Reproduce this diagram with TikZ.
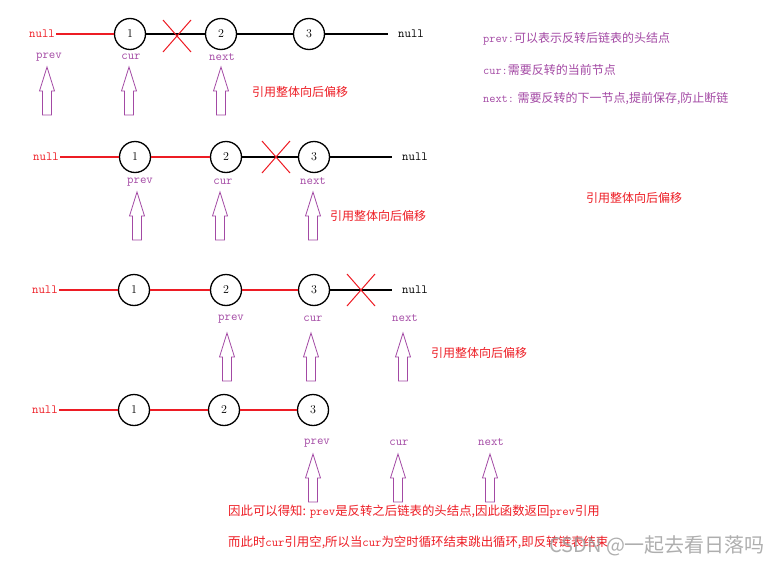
\documentclass[tikz,border=0pt]{standalone}
\usepackage{fontspec}
\usepackage{xcolor}
\usepackage{tikz}
\usetikzlibrary{positioning,calc}
\newfontfamily\cjk{Noto Sans CJK SC}
\definecolor{linkred}{HTML}{ED1C24}
\definecolor{ptrpurple}{HTML}{A349A4}
\definecolor{markgray}{HTML}{9A9A9A}

\begin{document}
\begin{tikzpicture}[
    x=1pt,y=-1pt,
    listnode/.style={circle,draw,line width=1.3pt,minimum size=31pt,inner sep=0pt,font=\fontsize{12}{12}\selectfont},
    nul/.style={inner sep=1pt,font=\ttfamily\fontsize{12.5}{13}\selectfont},
    ptrlbl/.style={inner sep=1pt,text=ptrpurple,font=\ttfamily\fontsize{12.5}{13}\selectfont},
    shiftnote/.style={inner sep=0pt,text=linkred,font=\cjk\fontsize{12}{12}\selectfont},
    legend/.style={inner sep=0pt,anchor=west,text=ptrpurple,font=\cjk\fontsize{12}{12}\selectfont},
    note/.style={inner sep=0pt,anchor=west,text=linkred,font=\cjk\fontsize{12.4}{13}\selectfont},
    oldlink/.style={line width=1.2pt},
    newlink/.style={draw=linkred,line width=1.4pt},
    ptrline/.style={draw=ptrpurple,fill=white,line width=0.8pt,line join=miter},
    cut/.pic={\draw[linkred,line width=1pt] (-14,-16) -- (14,16) (-14,16) -- (14,-16);},
    upptr/.pic={\draw[ptrline] (-4.5,0) -- (-4.5,-24) -- (-7.5,-24) -- (0,-48)
      -- (7.5,-24) -- (4.5,-24) -- (4.5,0) -- cycle;},
  ]
    \useasboundingbox (0,0) rectangle (772,565);

    % step 1
    \node[nul,text=linkred] (nullA) at (42,34) {null};
    \node[listnode] (oneA) at (130,34) {1};
    \node[listnode] (twoA) at (221,34) {2};
    \node[listnode] (threeA) at (309,34) {3};
    \node[nul] (endA) at (411,34) {null};
    \draw[newlink] (nullA) -- (oneA);
    \draw[oldlink] (oneA) -- (twoA);
    \draw[oldlink] (twoA) -- (threeA);
    \draw[oldlink] (threeA) -- ([xshift=-9pt]endA.west);
    \pic at (177,36) {cut};
    \node[ptrlbl] (prevA) at (49,57) {prev};
    \node[ptrlbl] (curA) at (131,57) {cur};
    \node[ptrlbl] (nextA) at (222,57) {next};
    \pic at (47,115) {upptr};
    \pic at (129,115) {upptr};
    \pic at (221,115) {upptr};
    \node[shiftnote] (shiftA) at (300,92) {引用整体向后偏移};

    % legend
    \node[legend] (legPrev) at (483,39) {{\ttfamily prev:}可以表示反转后链表的头结点};
    \node[legend] (legCur) at (483,70) {{\ttfamily cur:}需要反转的当前节点};
    \node[legend] (legNext) at (483,99) {{\ttfamily next:} 需要反转的下一节点,提前保存,防止断链};

    % step 2
    \node[nul,text=linkred] (nullB) at (46,157) {null};
    \node[listnode] (oneB) at (135,157) {1};
    \node[listnode] (twoB) at (226,157) {2};
    \node[listnode] (threeB) at (314,157) {3};
    \node[nul] (endB) at (415,157) {null};
    \draw[newlink] (nullB) -- (oneB);
    \draw[newlink] (oneB) -- (twoB);
    \draw[oldlink] (twoB) -- (threeB);
    \draw[oldlink] (threeB) -- ([xshift=-9pt]endB.west);
    \pic at (276,157) {cut};
    \node[ptrlbl] (prevB) at (140,182) {prev};
    \node[ptrlbl] (curB) at (223,182) {cur};
    \node[ptrlbl] (nextB) at (313,181) {next};
    \pic at (137,240) {upptr};
    \pic at (220,240) {upptr};
    \pic at (313,240) {upptr};
    \node[shiftnote] (shiftB) at (378,216) {引用整体向后偏移};
    \node[shiftnote] (shiftMid) at (634,198) {引用整体向后偏移};

    % step 3
    \node[nul,text=linkred] (nullC) at (45,290) {null};
    \node[listnode] (oneC) at (134,290) {1};
    \node[listnode] (twoC) at (226,290) {2};
    \node[listnode] (threeC) at (314,290) {3};
    \node[nul] (endC) at (415,290) {null};
    \draw[newlink] (nullC) -- (oneC);
    \draw[newlink] (oneC) -- (twoC);
    \draw[newlink] (twoC) -- (threeC);
    \draw[oldlink] (threeC) -- ([xshift=-9pt]endC.west);
    \pic at (361,290) {cut};
    \node[ptrlbl] (prevC) at (231,319) {prev};
    \node[ptrlbl] (curC) at (313,319) {cur};
    \node[ptrlbl] (nextC) at (405,318) {next};
    \pic at (227,381) {upptr};
    \pic at (311,381) {upptr};
    \pic at (403,381) {upptr};
    \node[shiftnote] (shiftC) at (479,353) {引用整体向后偏移};

    % step 4
    \node[nul,text=linkred] (nullD) at (45,410) {null};
    \node[listnode] (oneD) at (134,410) {1};
    \node[listnode] (twoD) at (224,410) {2};
    \node[listnode] (threeD) at (313,410) {3};
    \draw[newlink] (nullD) -- (oneD);
    \draw[newlink] (oneD) -- (twoD);
    \draw[newlink] (twoD) -- (threeD);
    \node[ptrlbl] (prevD) at (317,443) {prev};
    \node[ptrlbl] (curD) at (399,443) {cur};
    \node[ptrlbl] (nextD) at (491,442) {next};
    \pic at (313,502) {upptr};
    \pic at (398,502) {upptr};
    \pic at (490,502) {upptr};

    \node[note] (endNote1) at (228,512) {因此可以得知: {\ttfamily prev}是反转之后链表的头结点,因此函数返回{\ttfamily prev}引用};
    \node[note] (endNote2) at (228,542) {而此时{\ttfamily cur}引用空,所以当{\ttfamily cur}为空时循环结束跳出循环,即反转链表结束};
    \node[inner sep=0pt,anchor=west,text=markgray,opacity=0.8,font=\cjk\fontsize{20}{20}\selectfont] (mark) at (549,546) {CSDN @一起去看日落吗};
\end{tikzpicture}
\end{document}
